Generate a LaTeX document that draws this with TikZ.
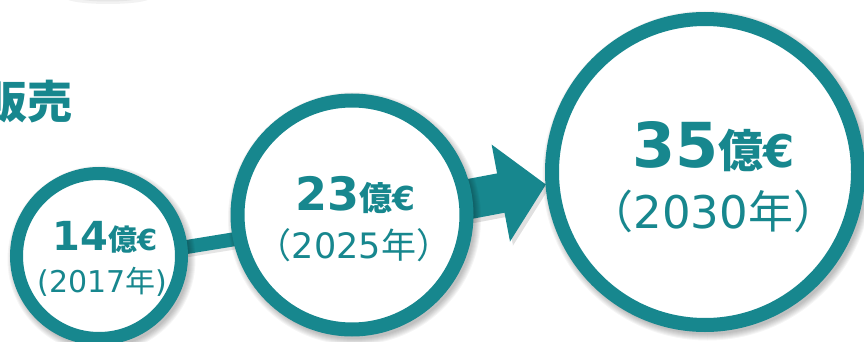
\documentclass[tikz,border=0pt]{standalone}
\usepackage{fontspec}
\setmainfont{DejaVu Sans}
\newfontfamily\cjk{Noto Sans CJK JP}
\usetikzlibrary{arrows.meta,calc}
\definecolor{tealc}{HTML}{17878E}
\pgfdeclarelayer{conn}
\pgfdeclarelayer{shad}
\pgfsetlayers{conn,shad,main}
\tikzset{
  ring/.style={circle, draw=tealc, fill=white, inner sep=0pt},
  lbl/.style={text=tealc, inner sep=0pt, anchor=base},
  shadowc/.style={black, opacity=0.04},
  bigarrow/.style={line width=40pt, -{Triangle[width=96pt,length=46pt]}},
}
\newcommand\ringshadow[2]{\foreach \k in {1,...,7}{\fill[shadowc] ($(#1)+(2.5,3.5)$) circle[radius={#2pt+\k pt-2pt}];}}
\begin{document}
\begin{tikzpicture}[x=1pt,y=-1pt]
\useasboundingbox (0,0) rectangle (864,342);
\clip (0,0) rectangle (864,342);
% faint shadow at the top
\fill[black,opacity=0.05] (108,-2) ellipse[x radius=42pt, y radius=6pt];
\fill[black,opacity=0.05] (108,-3) ellipse[x radius=34pt, y radius=4.5pt];

\node[ring, line width=13pt, minimum size=165pt] (c14) at (99,256) {};
\node[ring, line width=14pt, minimum size=229pt] (c23) at (352,215) {};
\node[ring, line width=14pt, minimum size=306pt] (c35) at (705,172) {};

\begin{pgfonlayer}{shad}
\ringshadow{c14}{89}
\ringshadow{c23}{121.5}
\ringshadow{c35}{160}
\end{pgfonlayer}

\begin{pgfonlayer}{conn}
 \coordinate (l1) at ($(c14)+(0,5.3)$);
 \coordinate (l2) at ($(c23)+(0,5)$);
 \draw[black, opacity=0.1, line width=14pt] ($(l1)+(2,3)$) -- ($(l2)+(2,3)$);
 \draw[tealc, line width=14pt] (l1) -- (l2);
 \coordinate (a1) at ($(c23)+(33,0)$);
 \coordinate (a2) at ($(c35)+(-159,12.5)$);
 \draw[black, opacity=0.12, bigarrow] ($(a1)+(3,4)$) -- ($(a2)+(3,4)$);
 \draw[tealc, bigarrow] (a1) -- (a2);
\end{pgfonlayer}

\node[lbl] (t14) at (105,250) {\fontsize{40}{40}\selectfont\bfseries 14{\fontsize{29}{29}\selectfont{\cjk 億}€}};
\node[lbl] (y14) at (102.5,292) {\fontsize{30}{30}\selectfont(2017{\cjk 年})};
\node[lbl] (t23) at (355,210) {\fontsize{46}{46}\selectfont\bfseries 23{\fontsize{33}{33}\selectfont{\cjk 億}€}};
\node[lbl] (y23) at (354,258) {\fontsize{35}{35}\selectfont{\cjk （}2025{\cjk 年）}};
\node[lbl] (t35) at (714,167) {\fontsize{62}{62}\selectfont\bfseries 35{\fontsize{45}{45}\selectfont{\cjk 億}€}};
\node[lbl] (y35) at (713.5,228) {\fontsize{45}{45}\selectfont{\cjk （}2030{\cjk 年）}};
\node[text=tealc, inner sep=0pt, anchor=base east] (hb) at (73,119) {\fontsize{45}{45}\selectfont\cjk\bfseries 販売};
\end{tikzpicture}
\end{document}
